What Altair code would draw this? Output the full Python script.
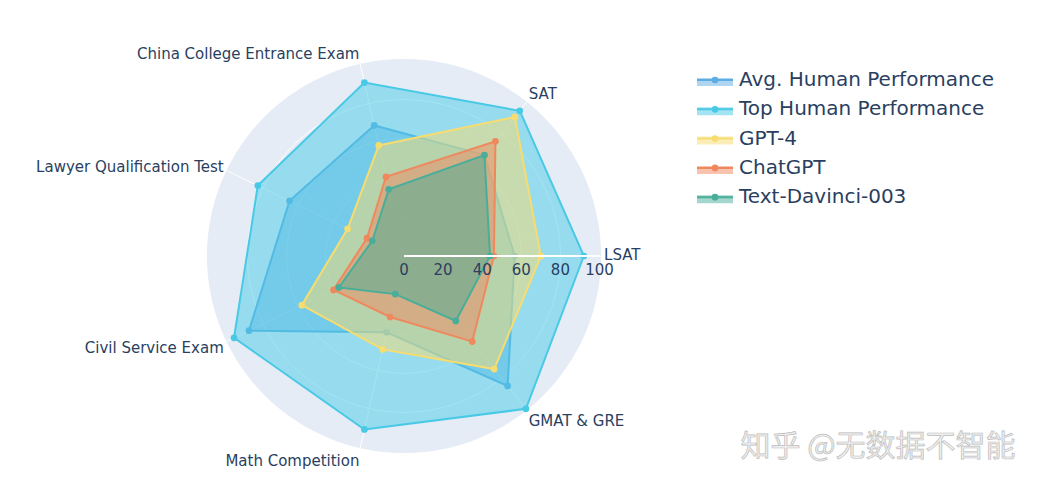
import numpy as np
import pandas as pd
import altair as alt

# ---------------- data ----------------
categories = ["LSAT", "SAT", "China College Entrance Exam", "Lawyer Qualification Test",
              "Civil Service Exam", "Math Competition", "GMAT & GRE"]
series_names = ["Avg. Human Performance", "Top Human Performance", "GPT-4", "ChatGPT", "Text-Davinci-003"]
avg_human = [56.6, 66, 68.5, 65, 88, 40, 85]
top_human = [92, 95, 91, 83, 96.5, 91, 100]
gpt4 = [70, 91, 58, 32, 58, 49, 74]
chatgpt = [46, 75, 41.5, 21, 40, 32, 56]
davinci = [44, 66, 35, 18, 37, 20, 42.5]
series_values = [avg_human, top_human, gpt4, chatgpt, davinci]
colors = ["#5DADE2", "#48C9E5", "#F7DC6F", "#F0885E", "#48AE9A"]
radial_ticks = [0, 20, 40, 60, 80, 100]
watermark = "知乎 @无数据不智能"

# ---------------- layout ----------------
W, H = 1031, 474
K = 1.955            # px per unit
CX, CY = 404, 256    # page px of polar centre
RMAX = 100.8
N = len(categories)
TXT = "#2a3f5f"
FONT = "DejaVu Sans"

xs = alt.Scale(domain=[(8 - CX) / K, (8 + W - CX) / K], nice=False, zero=False)
ys = alt.Scale(domain=[(CY - (8 + H)) / K, (CY - 8) / K], nice=False, zero=False)
X = lambda f: alt.X(f, scale=xs, axis=None)
Y = lambda f: alt.Y(f, scale=ys, axis=None)

# background disk and grid rings (geometry)
ang = np.linspace(0, 2 * np.pi, 181)
disk = pd.DataFrame({"o": np.arange(len(ang)), "x": RMAX * np.cos(ang), "y": RMAX * np.sin(ang)})
rings = pd.concat([pd.DataFrame({"ring": r, "o": np.arange(len(ang)),
                                 "x": r * np.cos(ang), "y": r * np.sin(ang)})
                   for r in [20, 40, 60, 80]])
spoke_a = np.arange(N) * 2 * np.pi / N
spokes = pd.DataFrame({"x": 0.0, "y": 0.0, "x2": RMAX * np.cos(spoke_a), "y2": RMAX * np.sin(spoke_a)})

layers = []
layers.append(alt.Chart(disk).mark_line(fill="#E5ECF6", strokeWidth=0, stroke="#E5ECF6")
              .encode(x=X("x:Q"), y=Y("y:Q"), order="o:Q"))
layers.append(alt.Chart(rings).mark_line(color="white", strokeWidth=1)
              .encode(x=X("x:Q"), y=Y("y:Q"), detail="ring:N", order="o:Q"))
layers.append(alt.Chart(spokes).mark_rule(color="white", strokeWidth=1)
              .encode(x=X("x:Q"), y=Y("y:Q"), x2="x2:Q", y2="y2:Q"))

# series polygons
for name, vals, c in zip(series_names, series_values, colors):
    df = pd.DataFrame({"k": list(range(N)) + [N], "r": vals + [vals[0]],
                       "cat": categories + [categories[0]]})
    base = (alt.Chart(df)
            .transform_calculate(x=f"datum.r*cos(datum.k*2*PI/{N})",
                                 y=f"datum.r*sin(datum.k*2*PI/{N})")
            .encode(x=X("x:Q"), y=Y("y:Q"), order="k:Q"))
    layers.append(base.mark_line(fill=c, fillOpacity=0.5, stroke=c, strokeWidth=2))
    layers.append(base.transform_filter(f"datum.k < {N}")
                  .mark_point(filled=True, color=c, size=45, opacity=1))

# radial axis line and tick labels
layers.append(alt.Chart(pd.DataFrame({"x": [0], "x2": [100], "y": [0]}))
              .mark_rule(color="white", strokeWidth=2)
              .encode(x=X("x:Q"), x2="x2:Q", y=Y("y:Q")))
layers.append(alt.Chart(pd.DataFrame({"t": radial_ticks, "y": 0}))
              .mark_text(font=FONT, fontSize=15, color=TXT, dy=14, align="center", baseline="middle")
              .encode(x=X("t:Q"), y=Y("y:Q"), text="t:Q"))

# angular labels
lab = pd.DataFrame({"cat": categories, "a": spoke_a})
lab["x"] = RMAX * np.cos(lab.a) + 3 * np.cos(lab.a) / K
lab["y"] = RMAX * np.sin(lab.a) + (12 * np.sin(lab.a) - np.where(lab.a == 0, -1.0, 1.5)) / K
lab["side"] = np.where(np.cos(lab.a) > 0, "L", "R")
for side, al in [("L", "left"), ("R", "right")]:
    layers.append(alt.Chart(lab[lab.side == side])
                  .mark_text(font=FONT, fontSize=15, color=TXT, align=al, baseline="middle")
                  .encode(x=X("x:Q"), y=Y("y:Q"), text="cat:N"))

# legend
leg = pd.DataFrame({"name": series_names, "c": colors, "i": range(len(series_names))})
ly = lambda i: (CY - (80 + 29.3 * i)) / K
leg["y"] = [ly(i) for i in leg.i]
leg["yb1"] = leg.y + 2 / K
leg["yb2"] = leg.y - 6 / K
leg["x0"] = (697 - CX) / K
leg["x1"] = (733 - CX) / K
leg["xm"] = (715 - CX) / K
leg["xt"] = (739 - CX) / K
cscale = alt.Scale(domain=series_names, range=colors)
layers.append(alt.Chart(leg).mark_rect(opacity=0.5)
              .encode(x=X("x0:Q"), x2="x1:Q", y=Y("yb1:Q"), y2="yb2:Q",
                      color=alt.Color("name:N", scale=cscale, legend=None)))
layers.append(alt.Chart(leg).mark_rule(strokeWidth=2)
              .encode(x=X("x0:Q"), x2="x1:Q", y=Y("y:Q"),
                      color=alt.Color("name:N", scale=cscale, legend=None)))
layers.append(alt.Chart(leg).mark_point(filled=True, size=45, opacity=1)
              .encode(x=X("xm:Q"), y=Y("y:Q"),
                      color=alt.Color("name:N", scale=cscale, legend=None)))
layers.append(alt.Chart(leg).mark_text(font=FONT, fontSize=20, color=TXT, align="left", baseline="middle")
              .encode(x=X("xt:Q"), y=Y("y:Q"), text="name:N"))

# watermark
wm = pd.DataFrame({"t": [watermark], "x": [(878 - CX) / K], "y": [(CY - 447) / K]})
layers.append(alt.Chart(wm).mark_text(font="Noto Sans CJK SC", fontSize=30, fill="#eeeeee",
                                      stroke="#bdbdbd", strokeWidth=0.7, align="center", baseline="middle")
              .encode(x=X("x:Q"), y=Y("y:Q"), text="t:N"))

chart = (alt.layer(*layers)
         .properties(width=W, height=H, padding=0, autosize=alt.AutoSizeParams(type="none"))
         .configure_view(stroke=None))

chart.save("out.html", embed_options={"renderer": "svg", "actions": False})
